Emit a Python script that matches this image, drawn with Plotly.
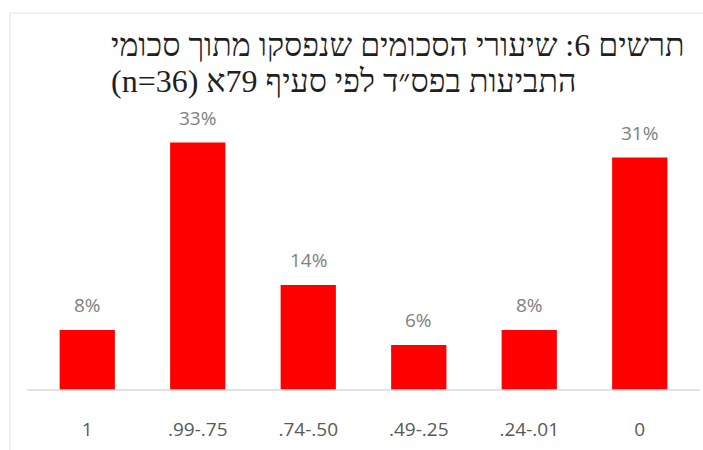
import plotly.graph_objects as go

# Share of the claimed amount awarded, grouped by ratio band
categories = ["1", ".99-.75", ".74-.50", ".49-.25", ".24-.01", "0"]
percent = [8, 33, 14, 6, 8, 31]
labels = [f"{v}%" for v in percent]

title_lines = [
    "תרשים 6: שיעורי הסכומים שנפסקו מתוך סכומי",
    "התביעות בפס״ד לפי סעיף 79א (n=36)",
]

RLE, PDF = "\u202B", "\u202C"

W, H = 703, 450
L, R, T, B = 32, 8, 120, 57
pw, ph = W - L - R, H - T - B


def px_x(x):
    return (x - L) / pw


def px_y(y):
    return (H - B - y) / ph


fig = go.Figure()
fig.add_trace(go.Bar(
    x=categories,
    y=percent,
    marker=dict(color="#ff0000", line=dict(width=0)),
    width=0.5,
    hoverinfo="skip",
))

annotations = []
# value labels above each bar (category positions by index)
for i, (v, t) in enumerate(zip(percent, labels)):
    annotations.append(dict(
        x=i, y=v, xref="x", yref="y", text=t, showarrow=False,
        yanchor="bottom", yshift=10,
        font=dict(family="Open Sans", size=19, color="#808080"),
    ))

# two-line Hebrew title, both lines starting at the same left edge
for line, yc in zip(title_lines, [44, 81]):
    annotations.append(dict(
        x=px_x(109), xref="paper", xanchor="left",
        y=px_y(yc), yref="paper", yanchor="middle",
        text=RLE + line + PDF, showarrow=False,
        font=dict(family="Liberation Serif", size=32, color="#1f1f1f"),
    ))

fig.update_layout(
    width=W, height=H,
    margin=dict(l=L, r=R, t=T, b=B),
    paper_bgcolor="white", plot_bgcolor="white",
    showlegend=False,
    xaxis=dict(
        type="category",
        showgrid=False, zeroline=False, showline=False,
        ticks="", ticklabelstandoff=26,
        tickfont=dict(family="Open Sans", size=19, color="#595959"),
        fixedrange=True,
    ),
    yaxis=dict(
        range=[0, 36], visible=False, showgrid=False, fixedrange=True,
    ),
    annotations=annotations,
    shapes=[
        # chart-area border
        dict(type="rect", xref="paper", yref="paper",
             x0=px_x(10), x1=px_x(720), y0=px_y(470), y1=px_y(12),
             line=dict(color="#e3e3e3", width=1), fillcolor="rgba(0,0,0,0)",
             layer="below"),
        # category axis line
        dict(type="line", xref="paper", yref="paper",
             x0=px_x(27), x1=px_x(700), y0=0, y1=0,
             line=dict(color="#d9d9d9", width=1.5)),
    ],
)

fig.write_html("out.html")
